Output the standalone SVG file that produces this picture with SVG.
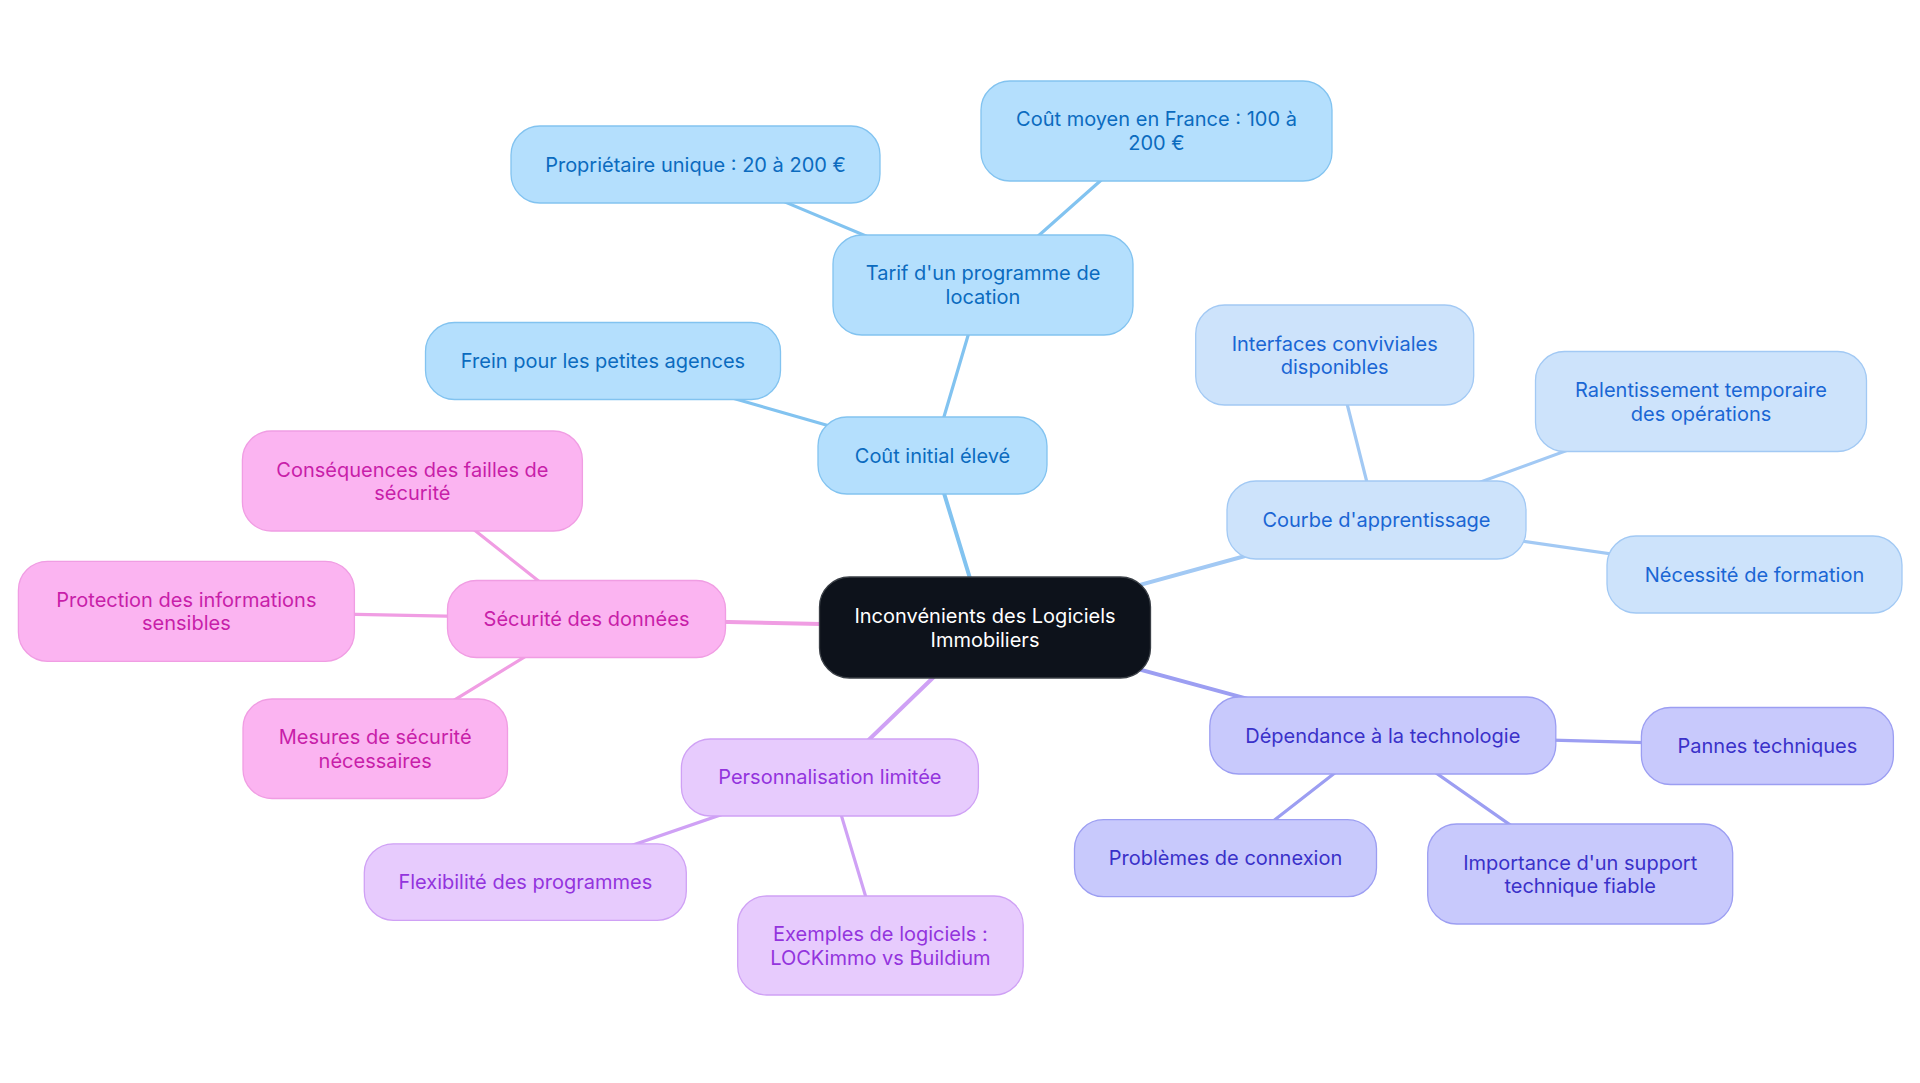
<svg xmlns="http://www.w3.org/2000/svg" width="1920" height="1083" viewBox="0 0 1920 1083">
<style>
text{font-family:Inter,"Noto Sans","Liberation Sans",sans-serif;font-size:20px;text-anchor:middle;dominant-baseline:central}
.n rect{stroke-width:1.3}
.root rect{fill:#0d121b;stroke:#3a3f46}
.root text{fill:#ffffff}
.b1 rect{fill:#b4dffd;stroke:#82c3f0}
.b1 text{fill:#0b6bbf}
.b2 rect{fill:#cde3fb;stroke:#a2c9f4}
.b2 text{fill:#1a66d4}
.b3 rect{fill:#c8c9fc;stroke:#9c9ef2}
.b3 text{fill:#3a31c9}
.b4 rect{fill:#e7cbfd;stroke:#cfa1f5}
.b4 text{fill:#9334dd}
.b5 rect{fill:#fbb4f1;stroke:#f09de3}
.b5 text{fill:#c81ea9}
.e{fill:none;stroke-linecap:round}
.e1{stroke:#82c3f0}
.e2{stroke:#a2c9f4}
.e3{stroke:#9c9ef2}
.e4{stroke:#cfa1f5}
.e5{stroke:#f09de3}
.d0{stroke-width:4}
.d1{stroke-width:3.2}
</style>
<rect width="1920" height="1083" fill="#ffffff"/>
<g id="connectors">
<line class="e e1 d0" x1="985" y1="627.5" x2="932.5" y2="455.5"/>
<line class="e e1 d1" x1="932.5" y1="455.5" x2="983" y2="285"/>
<line class="e e1 d1" x1="983" y1="285" x2="695.5" y2="164.5"/>
<line class="e e1 d1" x1="983" y1="285" x2="1156.5" y2="131"/>
<line class="e e1 d1" x1="932.5" y1="455.5" x2="603" y2="361"/>
<line class="e e2 d0" x1="985" y1="627.5" x2="1376.5" y2="520"/>
<line class="e e2 d1" x1="1376.5" y1="520" x2="1334.7" y2="355"/>
<line class="e e2 d1" x1="1376.5" y1="520" x2="1701" y2="401.5"/>
<line class="e e2 d1" x1="1376.5" y1="520" x2="1754" y2="574.5"/>
<line class="e e3 d0" x1="985" y1="627.5" x2="1382.7" y2="735.6"/>
<line class="e e3 d1" x1="1382.7" y1="735.6" x2="1767.5" y2="745.8"/>
<line class="e e3 d1" x1="1382.7" y1="735.6" x2="1225.4" y2="858.2"/>
<line class="e e3 d1" x1="1382.7" y1="735.6" x2="1580" y2="873.8"/>
<line class="e e4 d0" x1="985" y1="627.5" x2="829.9" y2="777.4"/>
<line class="e e4 d1" x1="829.9" y1="777.4" x2="525.3" y2="882"/>
<line class="e e4 d1" x1="829.9" y1="777.4" x2="880.4" y2="945.5"/>
<line class="e e5 d0" x1="985" y1="627.5" x2="586.5" y2="619"/>
<line class="e e5 d1" x1="586.5" y1="619" x2="412.6" y2="481"/>
<line class="e e5 d1" x1="586.5" y1="619" x2="186.5" y2="611"/>
<line class="e e5 d1" x1="586.5" y1="619" x2="375.2" y2="748.7"/>
</g>
<g id="root" class="n root"><rect x="819.5" y="577" width="331" height="101" rx="30"/><text x="985" y="616">Inconvénients des Logiciels</text><text x="985" y="639.5">Immobiliers</text></g>
<g id="cout-initial" class="n b1"><rect x="818" y="417" width="229" height="77" rx="29"/><text x="932.5" y="455.5">Coût initial élevé</text></g>
<g id="tarif" class="n b1"><rect x="833" y="235" width="300" height="100" rx="29"/><text x="983" y="273">Tarif d'un programme de</text><text x="983" y="296.5">location</text></g>
<g id="proprietaire" class="n b1"><rect x="511" y="126" width="369" height="77" rx="29"/><text x="695.5" y="164.5">Propriétaire unique : 20 à 200 €</text></g>
<g id="cout-moyen" class="n b1"><rect x="981" y="81" width="351" height="100" rx="29"/><text x="1156.5" y="119">Coût moyen en France : 100 à</text><text x="1156.5" y="142.5">200 €</text></g>
<g id="frein" class="n b1"><rect x="425.5" y="322.5" width="355" height="77" rx="29"/><text x="603" y="361">Frein pour les petites agences</text></g>
<g id="courbe" class="n b2"><rect x="1227" y="481" width="299" height="78" rx="29"/><text x="1376.5" y="520">Courbe d'apprentissage</text></g>
<g id="interfaces" class="n b2"><rect x="1195.7" y="305" width="278" height="100" rx="29"/><text x="1334.7" y="343.5">Interfaces conviviales</text><text x="1334.7" y="367">disponibles</text></g>
<g id="ralentissement" class="n b2"><rect x="1535.5" y="351.5" width="331" height="100" rx="29"/><text x="1701" y="390">Ralentissement temporaire</text><text x="1701" y="413.5">des opérations</text></g>
<g id="necessite" class="n b2"><rect x="1607" y="536" width="295" height="77" rx="29"/><text x="1754.5" y="574.5">Nécessité de formation</text></g>
<g id="dependance" class="n b3"><rect x="1209.8" y="697" width="346" height="77" rx="29"/><text x="1382.8" y="735.5">Dépendance à la technologie</text></g>
<g id="pannes" class="n b3"><rect x="1641.4" y="707.5" width="252" height="77" rx="29"/><text x="1767.4" y="746">Pannes techniques</text></g>
<g id="problemes" class="n b3"><rect x="1074.5" y="819.7" width="302" height="77" rx="29"/><text x="1225.5" y="858.2">Problèmes de connexion</text></g>
<g id="importance" class="n b3"><rect x="1427.7" y="824" width="305" height="100" rx="29"/><text x="1580.2" y="862.5">Importance d'un support</text><text x="1580.2" y="886">technique fiable</text></g>
<g id="securite" class="n b5"><rect x="447.5" y="580.5" width="278" height="77" rx="29"/><text x="586.5" y="619">Sécurité des données</text></g>
<g id="consequences" class="n b5"><rect x="242.4" y="431" width="340" height="100" rx="29"/><text x="412.4" y="469.5">Conséquences des failles de</text><text x="412.4" y="493">sécurité</text></g>
<g id="protection" class="n b5"><rect x="18.4" y="561.3" width="336" height="100" rx="29"/><text x="186.4" y="599.5">Protection des informations</text><text x="186.4" y="623">sensibles</text></g>
<g id="mesures" class="n b5"><rect x="243" y="699" width="264.5" height="99.5" rx="29"/><text x="375.2" y="737">Mesures de sécurité</text><text x="375.2" y="760.5">nécessaires</text></g>
<g id="personnalisation" class="n b4"><rect x="681.4" y="739" width="297" height="77" rx="29"/><text x="829.9" y="777.4">Personnalisation limitée</text></g>
<g id="flexibilite" class="n b4"><rect x="364.3" y="843.8" width="322" height="76.5" rx="29"/><text x="525.3" y="882">Flexibilité des programmes</text></g>
<g id="exemples" class="n b4"><rect x="737.7" y="896" width="285.5" height="99" rx="29"/><text x="880.4" y="934">Exemples de logiciels :</text><text x="880.4" y="957.5">LOCKimmo vs Buildium</text></g>
</svg>
